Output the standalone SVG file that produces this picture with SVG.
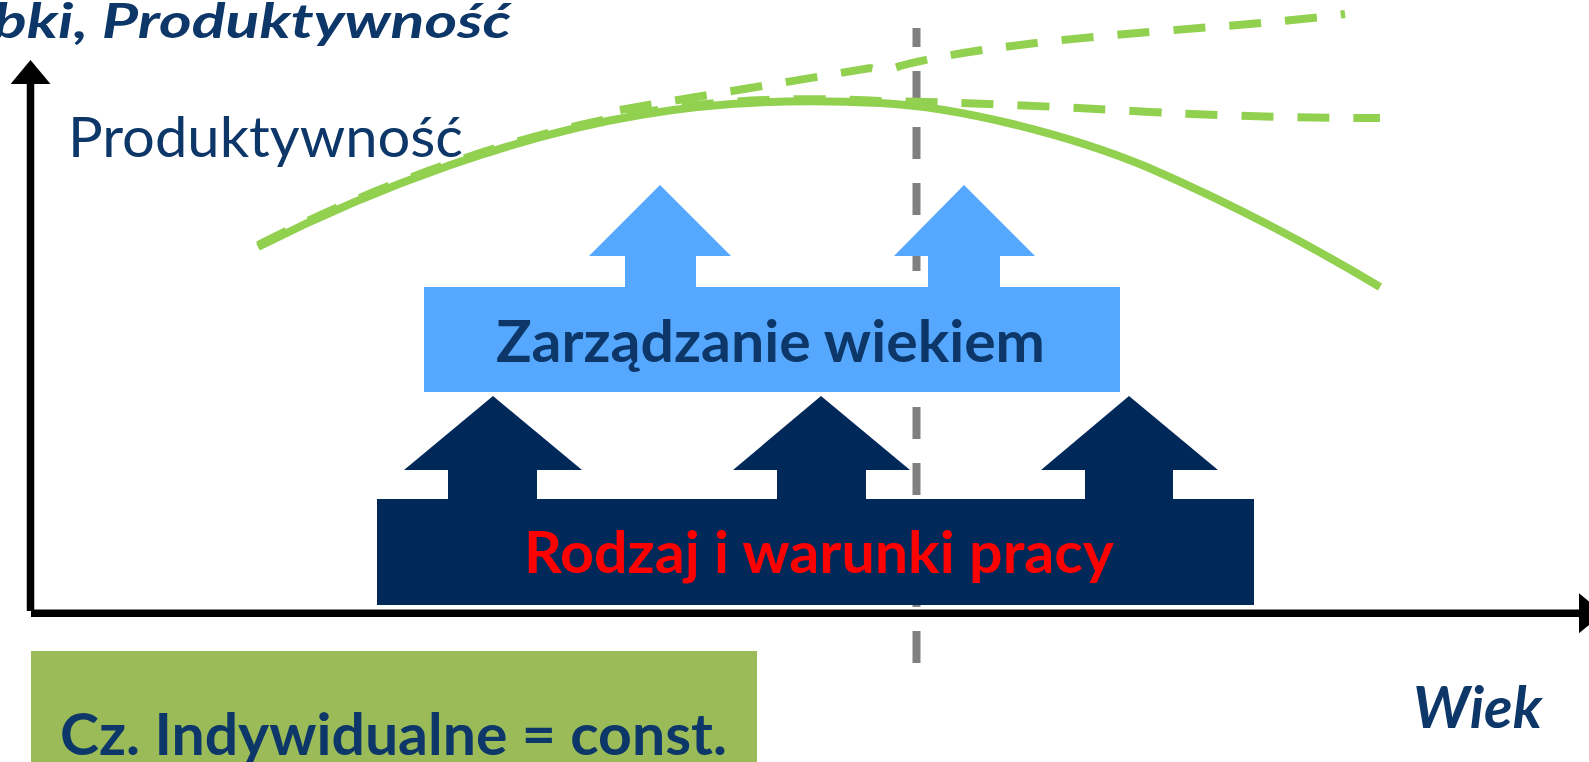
<svg xmlns="http://www.w3.org/2000/svg" width="1589" height="762" viewBox="0 0 1589 762">
  <style>
    .lbl { font-family: Lato, "Open Sans", "Liberation Sans", sans-serif; }
    .navy { fill: #0C3768; }
    .bold { font-weight: bold; }
    .ital { font-style: italic; }
    .curve { fill: none; stroke: #92D050; stroke-width: 8; }
    .dash { stroke-dasharray: 32 24; }
    .axis { stroke: #000; stroke-width: 7.5; fill: none; }
    .light { fill: #56A8FF; }
    .dark { fill: #00295A; }
  </style>
  <defs>
    <marker id="axisHead" markerUnits="userSpaceOnUse" viewBox="0 0 24 40" refX="0" refY="20" markerWidth="24" markerHeight="40" orient="auto">
      <path d="M0,0 L24,20 L0,40 Z" fill="#000"/>
    </marker>
  </defs>

  <rect width="1589" height="762" fill="#fff"/>

  <!-- age threshold line (behind boxes) -->
  <g id="age-threshold">
    <line x1="916.5" y1="28" x2="916.5" y2="663" stroke="#808080" stroke-width="8" stroke-dasharray="32 24" stroke-dashoffset="13"/>
  </g>

  <!-- productivity curves -->
  <g id="curves">
    <path class="curve" d="M258,247 C380,185 520,135 640,115 C720,101 800,99 880,103 C960,107 1070,135 1147,167 C1230,203 1310,245 1380,287"/>
    <path class="curve dash" d="M258,245 C380,183 520,133 640,113 C720,99 800,97 880,101 C950,102 1050,106 1150,112 C1250,117 1320,118 1380,118"/>
    <path class="curve dash" d="M620,110 C700,96 800,80 870,68 Q885,72 900,66 C960,50 1060,39 1162,31 C1240,25 1300,20 1345,14"/>
  </g>

  <!-- management block -->
  <g id="zarzadzanie">
    <polygon class="light" points="660,185 731,256 696,256 696,290 625,290 625,256 589,256"/>
    <polygon class="light" points="964,185 1035,256 1000,256 1000,290 928,290 928,256 894,256"/>
    <rect class="light" x="424" y="287" width="696" height="105"/>
    <text class="lbl navy bold" x="496" y="362" font-size="57" textLength="549" lengthAdjust="spacingAndGlyphs">Zarządzanie wiekiem</text>
  </g>

  <!-- work conditions block -->
  <g id="rodzaj-pracy">
    <polygon class="dark" points="493,396 582,470 537,470 537,502 448,502 448,470 404,470"/>
    <polygon class="dark" points="821,396 910,470 866,470 866,502 777,502 777,470 733,470"/>
    <polygon class="dark" points="1129,396 1218,470 1173,470 1173,502 1085,502 1085,470 1041,470"/>
    <rect class="dark" x="377" y="499" width="877" height="106"/>
    <text class="lbl bold" fill="#FF0000" x="524" y="573" font-size="57" textLength="590" lengthAdjust="spacingAndGlyphs">Rodzaj i warunki pracy</text>
  </g>

  <!-- axes -->
  <g id="axes">
    <line class="axis" x1="30.5" y1="611" x2="30.5" y2="84" marker-end="url(#axisHead)"/>
    <line class="axis" x1="31" y1="613.25" x2="1579" y2="613.25" marker-end="url(#axisHead)"/>
  </g>

  <g id="y-title">
    <text class="lbl navy bold ital" x="-7" y="38" font-size="47" textLength="518" lengthAdjust="spacingAndGlyphs">bki, Produktywność</text>
  </g>
  <g id="produktywnosc-label">
    <text class="lbl navy" x="68" y="157" font-size="56" textLength="395" lengthAdjust="spacingAndGlyphs">Produktywność</text>
  </g>
  <g id="x-title">
    <text class="lbl navy bold ital" x="1413" y="728" font-size="57" textLength="129" lengthAdjust="spacingAndGlyphs">Wiek</text>
  </g>

  <g id="indywidualne">
    <rect x="31" y="651" width="726" height="111" fill="#9BBB59"/>
    <text class="lbl navy bold" x="60" y="755" font-size="58" textLength="667" lengthAdjust="spacingAndGlyphs">Cz. Indywidualne = const.</text>
  </g>
</svg>
